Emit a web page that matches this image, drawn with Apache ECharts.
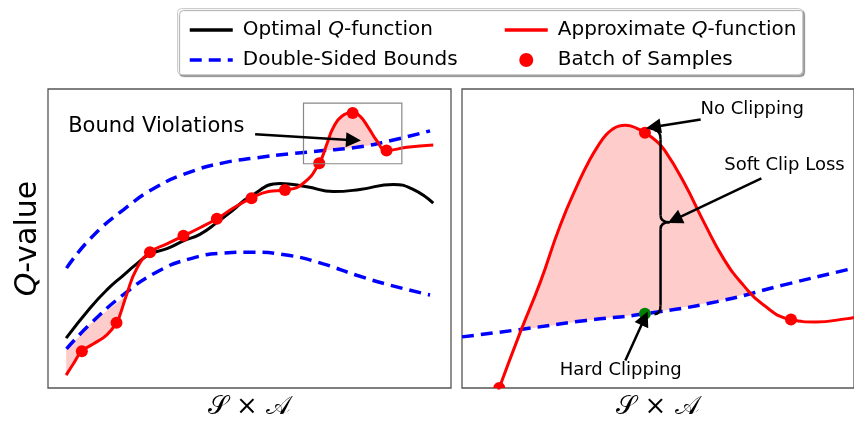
<!DOCTYPE html>
<html>
<head>
<meta charset="utf-8">
<script src="https://cdn.jsdelivr.net/npm/echarts@6/dist/echarts.min.js"></script>
<style>
  html, body { margin: 0; padding: 0; background: #fff; }
  #chart { width: 854px; height: 425px; }
</style>
</head>
<body>
<div id="chart"></div>
<script>
// left panel: whole state-action space
const optimalLeft = [[0.45,1.67],[1.04,2.67],[1.46,3.28],[1.87,3.77],[2.20,4.15],[2.53,4.48],[2.95,4.66],[3.36,4.92],
  [3.77,5.14],[4.19,5.53],[4.60,5.96],[5.01,6.40],[5.76,6.84],[6.42,6.73],[7.08,6.57],[7.74,6.64],[8.57,6.81],[9.06,6.64],[9.56,6.18]];
const approxLeft = [[0.45,0.43],[0.63,0.81],[0.84,1.23],[1.12,1.47],[1.46,1.78],[1.70,2.18],[1.79,2.46],[1.95,3.12],[2.20,3.99],
  [2.53,4.54],[2.95,4.82],[3.36,5.09],[3.77,5.36],[4.19,5.66],[4.60,6.02],[5.05,6.35],[5.47,6.57],[5.88,6.62],[6.33,6.84],
  [6.73,7.52],[6.92,8.16],[7.08,8.71],[7.29,9.09],[7.56,9.20],[7.74,9.09],[7.95,8.71],[8.16,8.27],[8.40,7.94],[8.90,8.05],[9.56,8.13]];
const upperBound = [[0.46,4.01],[1.04,4.98],[1.87,5.96],[2.70,6.73],[3.52,7.22],[4.35,7.53],[5.18,7.70],[6.00,7.83],
  [6.83,7.94],[7.66,8.05],[8.49,8.27],[9.48,8.60]];
const lowerBound = [[0.46,1.31],[1.04,2.13],[1.87,3.12],[2.70,3.88],[3.52,4.32],[4.35,4.51],[5.01,4.54],[6.00,4.43],
  [6.83,4.15],[7.66,3.77],[8.49,3.44],[9.48,3.11]];
const samplesLeft = [[0.84,1.23],[1.70,2.18],[2.53,4.54],[3.36,5.09],[4.19,5.66],[5.05,6.35],[5.88,6.62],[6.73,7.52],[7.56,9.20],[8.40,7.94]];
const violationLow = [[0.45,1.31],[0.75,1.69],[1.04,2.13],[1.54,2.67],[1.91,3.06],[1.79,2.46],[1.70,2.18],[1.46,1.78],
  [1.29,1.69],[1.12,1.47],[0.84,1.23],[0.63,0.81],[0.45,0.43]];
const violationHigh = [[6.86,7.94],[6.92,8.16],[7.00,8.49],[7.08,8.71],[7.18,8.92],[7.29,9.09],[7.42,9.19],[7.56,9.20],
  [7.66,9.15],[7.74,9.09],[7.85,8.92],[7.95,8.71],[8.06,8.48],[8.19,8.16],[7.66,8.05],[7.30,7.99],[6.86,7.94]];
const zoomBox = [[6.34,9.53],[8.78,7.50]];

// right panel: zoomed view of one violation
const approxRight = [[0.90,-0.30],[0.97,0.00],[1.53,1.91],[2.04,3.55],[2.55,5.42],[3.06,6.95],[3.31,7.60],[3.57,8.16],[3.74,8.45],
  [3.91,8.65],[4.08,8.76],[4.25,8.79],[4.42,8.75],[4.59,8.66],[4.76,8.54],[5.02,8.30],[5.28,7.94],[5.79,6.84],[6.30,5.53],
  [6.81,4.32],[7.32,3.44],[7.83,2.79],[8.56,2.29],[9.20,2.21],[10.03,2.32],[10.2,2.36]];
const boundRight = [[0,1.71],[1.53,1.96],[3.23,2.26],[4.76,2.48],[6.64,2.89],[8.35,3.44],[10.03,3.96],[10.2,4.02]];
const samplesRight = [[0.97,0.00],[4.76,8.54],[8.56,2.29]];
const clippedSample = [[4.76,2.48]];
const softRegion = [[1.51,1.94],[3.23,2.26],[4.76,2.48],[6.64,2.89],[7.54,3.19],[7.32,3.44],[7.05,3.85],[6.81,4.32],[6.55,4.90],
  [6.30,5.53],[6.05,6.18],[5.79,6.84],[5.53,7.45],[5.28,7.94],[5.02,8.30],[4.76,8.54],[4.59,8.66],[4.42,8.75],[4.25,8.79],
  [4.08,8.76],[3.91,8.65],[3.74,8.45],[3.57,8.16],[3.31,7.60],[3.06,6.95],[2.80,6.22],[2.55,5.42],[2.30,4.50],[2.04,3.55],
  [1.78,2.72],[1.51,1.94]];
const braceSpan = [[5.01,8.62],[5.01,2.47]];

// annotations (data coordinates)
const arrowsLeft = [[[5.14,8.49],[7.58,8.29]]];
const arrowsRight = [
  [[6.21,8.98],[4.98,8.73]],
  [[7.79,7.01],[5.53,5.63]],
  [[4.25,0.92],[4.75,2.33]]
];
const labelsLeft = [{ text: 'Bound Violations', at: [0.50,8.76], align: 'left', size: 21 }];
const labelsRight = [
  { text: 'No Clipping', at: [7.55,9.33], align: 'center', size: 18 },
  { text: 'Soft Clip Loss', at: [8.39,7.44], align: 'center', size: 18 },
  { text: 'Hard Clipping', at: [4.13,0.59], align: 'center', size: 18 }
];

const FONT = 'DejaVu Sans';
const chart = echarts.init(document.getElementById('chart'));

function lineSeries(name, data, idx, color, dashed, z) {
  return {
    name: name, type: 'line', xAxisIndex: idx, yAxisIndex: idx, data: data,
    smooth: true, showSymbol: false, symbol: 'none', clip: true, z: z, silent: true,
    lineStyle: { color: color, width: dashed ? 3.5 : 3, type: dashed ? [12, 7] : 'solid' },
    itemStyle: { color: color }
  };
}

function fillSeries(points, idx) {
  return {
    type: 'custom', xAxisIndex: idx, yAxisIndex: idx, clip: true, z: 1, silent: true,
    data: [[0, 0]],
    renderItem(params, api) {
      return { type: 'polygon', shape: { points: points.map(p => api.coord(p)) },
        style: { fill: 'rgba(255,0,0,0.2)' } };
    }
  };
}

function textSeries(labels, idx) {
  return {
    type: 'custom', xAxisIndex: idx, yAxisIndex: idx, z: 20, silent: true,
    data: labels.map((l, i) => [l.at[0], l.at[1], i]),
    renderItem(params, api) {
      const l = labels[params.dataIndex];
      const c = api.coord(l.at);
      return { type: 'text', x: c[0], y: c[1],
        style: { text: l.text, fontSize: l.size, fontFamily: FONT, fill: '#000',
          align: l.align, verticalAlign: 'middle' } };
    }
  };
}

function arrowSeries(arrows, idx) {
  return {
    type: 'lines', coordinateSystem: 'cartesian2d', xAxisIndex: idx, yAxisIndex: idx, z: 15, silent: true,
    symbol: ['none', 'triangle'], symbolSize: [1, 15],
    lineStyle: { color: '#000', width: 2.5, opacity: 1 },
    data: arrows.map(a => ({ coords: a }))
  };
}

function dotSeries(data, idx, color, z) {
  return {
    type: 'custom', xAxisIndex: idx, yAxisIndex: idx, clip: true, z: z, silent: true,
    data: data,
    renderItem(params, api) {
      const c = api.coord([api.value(0), api.value(1)]);
      return { type: 'circle', shape: { cx: c[0], cy: c[1], r: 6 }, style: { fill: color } };
    }
  };
}

// line entries in the legend show only the stroke, no marker
const noMarker = { opacity: 0 };

const option = {
  animation: false,
  backgroundColor: '#fff',
  textStyle: { fontFamily: FONT },
  graphic: [{
    type: 'rect', z: 0, left: 177, top: 8,
    shape: { width: 625, height: 66, r: 4 },
    style: { fill: '#fff', stroke: '#cccccc', lineWidth: 1,
      shadowColor: 'rgba(0,0,0,0.35)', shadowOffsetX: 2, shadowOffsetY: 2, shadowBlur: 1 }
  }],
  legend: [
    { data: [{ name: 'Optimal Q-function', itemStyle: noMarker }, { name: 'Double-Sided Bounds', itemStyle: noMarker }],
      left: 183, top: 15 },
    { data: [{ name: 'Approximate Q-function', itemStyle: noMarker }, { name: 'Batch of Samples' }],
      left: 498, top: 15 }
  ].map(l => Object.assign(l, {
    orient: 'vertical', itemWidth: 43, itemHeight: 14, itemGap: 10, z: 10, selectedMode: false,
    lineStyle: { width: 3.5 },
    formatter: n => n.replace(/Q-/, '{i|Q}{n|-}').replace(/^([^{]+)/, '{n|$1}').replace(/(-}\s*)([^{]+)$/, '$1{n|$2}'),
    textStyle: { fontSize: 20, color: '#000', lineHeight: 20, padding: [0, 0, 0, 5],
      rich: { n: { fontSize: 20, fontFamily: FONT, color: '#000' },
              i: { fontSize: 20, fontFamily: FONT, fontStyle: 'italic', color: '#000' } } }
  })),
  grid: [
    { left: 48, top: 89, width: 403, height: 304, show: true, borderColor: '#555', borderWidth: 1.3, containLabel: false },
    { left: 462, top: 89, width: 399, height: 304, show: true, borderColor: '#555', borderWidth: 1.3, containLabel: false }
  ],
  xAxis: [0, 1].map(i => ({
    type: 'value', gridIndex: i, min: 0, max: i === 0 ? 10 : 10.2,
    axisLine: { show: false }, axisTick: { show: false }, axisLabel: { show: false }, splitLine: { show: false },
    name: '\u{1D4AE} \u00D7 \u{1D49C}', nameLocation: 'middle', nameGap: 6,
    nameTextStyle: { fontSize: 26, color: '#000', fontFamily: 'DejaVu Serif, DejaVu Sans', verticalAlign: 'top' }
  })),
  yAxis: [0, 1].map(i => ({
    type: 'value', gridIndex: i, min: 0, max: 10,
    axisLine: { show: false }, axisTick: { show: false }, axisLabel: { show: false }, splitLine: { show: false },
    name: i === 0 ? '{i|Q}{n|-value}' : '', nameLocation: 'middle', nameGap: 5, nameRotate: 90,
    nameTextStyle: { rich: { i: { fontSize: 30, fontStyle: 'italic', fontFamily: FONT, color: '#000' },
                             n: { fontSize: 30, fontFamily: FONT, color: '#000' } } }
  })),
  series: [
    fillSeries(violationLow, 0),
    fillSeries(violationHigh, 0),
    fillSeries(softRegion, 1),
    lineSeries('Double-Sided Bounds', upperBound, 0, '#0000ff', true, 3),
    lineSeries('Double-Sided Bounds', lowerBound, 0, '#0000ff', true, 3),
    lineSeries('Optimal Q-function', optimalLeft, 0, '#000000', false, 4),
    lineSeries('Approximate Q-function', approxLeft, 0, '#ff0000', false, 5),
    {
      name: 'Batch of Samples', type: 'scatter', xAxisIndex: 0, yAxisIndex: 0, data: samplesLeft,
      symbolSize: 12, itemStyle: { color: '#ff0000', opacity: 1 }, z: 6, silent: true
    },
    {
      type: 'custom', xAxisIndex: 0, yAxisIndex: 0, z: 7, silent: true, data: [zoomBox[0]],
      renderItem(params, api) {
        const a = api.coord(zoomBox[0]), b = api.coord(zoomBox[1]);
        return { type: 'rect', shape: { x: a[0], y: a[1], width: b[0] - a[0], height: b[1] - a[1] },
          style: { fill: 'none', stroke: '#888', lineWidth: 1.2 } };
      }
    },
    arrowSeries(arrowsLeft, 0),
    textSeries(labelsLeft, 0),

    lineSeries('Double-Sided Bounds', boundRight, 1, '#0000ff', true, 3),
    lineSeries('Approximate Q-function', approxRight, 1, '#ff0000', false, 5),
    dotSeries(samplesRight, 1, '#ff0000', 6),
    dotSeries(clippedSample, 1, '#008000', 6),
    {
      type: 'custom', xAxisIndex: 1, yAxisIndex: 1, z: 8, silent: true, data: [braceSpan[0]],
      renderItem(params, api) {
        const t = api.coord(braceSpan[0]), b = api.coord(braceSpan[1]);
        const x = t[0], s = x + 6, tip = x + 15, m = (t[1] + b[1]) / 2;
        const st = { stroke: '#000', lineWidth: 2.5, fill: 'none' };
        return { type: 'group', children: [
          { type: 'bezierCurve', shape: { x1: x, y1: t[1], cpx1: s, cpy1: t[1], x2: s, y2: t[1] + 9 }, style: st },
          { type: 'line', shape: { x1: s, y1: t[1] + 9, x2: s, y2: m - 7 }, style: st },
          { type: 'bezierCurve', shape: { x1: s, y1: m - 7, cpx1: s, cpy1: m, x2: tip, y2: m }, style: st },
          { type: 'bezierCurve', shape: { x1: tip, y1: m, cpx1: s, cpy1: m, x2: s, y2: m + 7 }, style: st },
          { type: 'line', shape: { x1: s, y1: m + 7, x2: s, y2: b[1] - 9 }, style: st },
          { type: 'bezierCurve', shape: { x1: s, y1: b[1] - 9, cpx1: s, cpy1: b[1], x2: x, y2: b[1] }, style: st }
        ] };
      }
    },
    arrowSeries(arrowsRight, 1),
    textSeries(labelsRight, 1)
  ]
};
chart.setOption(option);
</script>
</body>
</html>
